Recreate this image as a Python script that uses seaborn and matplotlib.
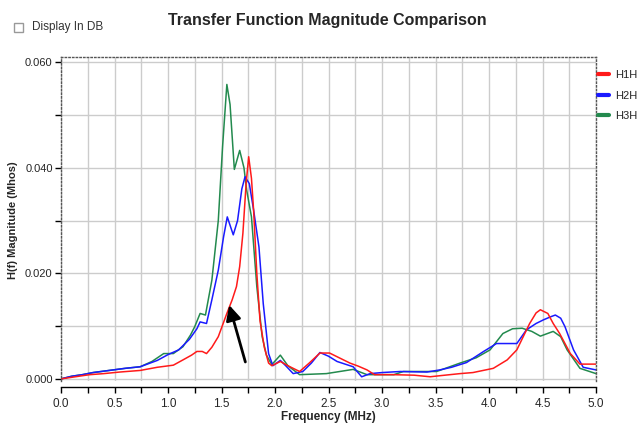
import pandas as pd
import matplotlib
matplotlib.use("Agg")
import matplotlib.pyplot as plt
import seaborn as sns
from matplotlib.ticker import MultipleLocator, FormatStrFormatter
from matplotlib.lines import Line2D
from matplotlib.patches import Rectangle

# H1H (red)
f_h1 = [0.0, 0.1, 0.2, 0.27, 0.4, 0.55, 0.74, 0.9, 1.05, 1.14, 1.22, 1.27, 1.32, 1.36, 1.41,
        1.47, 1.55, 1.60, 1.64, 1.67, 1.70, 1.73, 1.754, 1.78, 1.80, 1.83, 1.86, 1.90, 1.94, 1.97,
        2.05, 2.12, 2.23, 2.32, 2.42, 2.51, 2.60, 2.70, 2.78, 2.86, 2.93, 3.1, 3.3, 3.45, 3.54,
        3.73, 3.85, 4.04, 4.17, 4.26, 4.32, 4.38, 4.44, 4.48, 4.55, 4.60, 4.66, 4.76, 4.85, 5.0]
v_h1 = [0.0, 0.0003, 0.0006, 0.0008, 0.0010, 0.0013, 0.0016, 0.0022, 0.0026, 0.0036, 0.0045,
        0.0052, 0.0052, 0.0048, 0.0060, 0.0080, 0.0124, 0.0150, 0.0175, 0.0213, 0.0276, 0.0370,
        0.0421, 0.0380, 0.0320, 0.0200, 0.0110, 0.0060, 0.0030, 0.0025, 0.0033, 0.0025, 0.0014,
        0.0030, 0.0049, 0.0049, 0.0040, 0.0030, 0.0024, 0.0017, 0.0008, 0.0008, 0.0007, 0.0004,
        0.0006, 0.0010, 0.0012, 0.0020, 0.0036, 0.0055, 0.0080, 0.0105, 0.0125, 0.0131, 0.0124,
        0.0105, 0.0086, 0.0048, 0.0028, 0.0028]

# H2H (blue)
f_h2 = [0.0, 0.1, 0.2, 0.3, 0.45, 0.6, 0.74, 0.9, 1.0, 1.1, 1.2, 1.27, 1.30, 1.36, 1.41, 1.47,
        1.52, 1.554, 1.59, 1.61, 1.65, 1.69, 1.72, 1.76, 1.80, 1.85, 1.89, 1.94, 1.98, 2.05, 2.10,
        2.17, 2.26, 2.34, 2.42, 2.50, 2.58, 2.73, 2.81, 2.89, 3.0, 3.17, 3.42, 3.54, 3.65, 3.79,
        3.95, 4.07, 4.17, 4.26, 4.35, 4.44, 4.51, 4.58, 4.62, 4.67, 4.71, 4.79, 4.88, 5.0]
v_h2 = [0.0, 0.0005, 0.0008, 0.0012, 0.0016, 0.0020, 0.0023, 0.0035, 0.0046, 0.0055, 0.0075,
        0.0095, 0.0108, 0.0105, 0.0150, 0.0206, 0.0270, 0.0307, 0.0285, 0.0273, 0.0300, 0.0360,
        0.0383, 0.0370, 0.0320, 0.0250, 0.0143, 0.0048, 0.0025, 0.0035, 0.0025, 0.0010, 0.0014,
        0.0030, 0.0050, 0.0043, 0.0033, 0.0023, 0.0004, 0.0010, 0.0012, 0.0014, 0.0013, 0.0017,
        0.0022, 0.0031, 0.0052, 0.0067, 0.0067, 0.0067, 0.0093, 0.0105, 0.0112, 0.0118, 0.0121,
        0.0115, 0.0099, 0.0055, 0.0022, 0.0017]

# H3H (green)
f_h3 = [0.0, 0.1, 0.2, 0.3, 0.45, 0.6, 0.74, 0.85, 0.96, 1.05, 1.14, 1.21, 1.25, 1.30, 1.35,
        1.41, 1.47, 1.51, 1.55, 1.58, 1.62, 1.67, 1.71, 1.735, 1.78, 1.83, 1.88, 1.92, 1.97, 2.05,
        2.12, 2.23, 2.48, 2.73, 2.86, 3.11, 3.20, 3.51, 3.73, 3.88, 4.01, 4.13, 4.22, 4.31, 4.40,
        4.48, 4.60, 4.67, 4.73, 4.85, 5.0]
v_h3 = [0.0, 0.0005, 0.0008, 0.0012, 0.0016, 0.0020, 0.0023, 0.0033, 0.0048, 0.0048, 0.0061,
        0.0083, 0.0099, 0.0124, 0.0121, 0.0187, 0.0300, 0.0440, 0.0558, 0.0520, 0.0397, 0.0433,
        0.0400, 0.0358, 0.0307, 0.0175, 0.0080, 0.0045, 0.0027, 0.0045, 0.0025, 0.0008, 0.0010,
        0.0018, 0.0008, 0.0008, 0.0014, 0.0014, 0.0030, 0.0040, 0.0055, 0.0086, 0.0095, 0.0096,
        0.0090, 0.0081, 0.0090, 0.0080, 0.0055, 0.0020, 0.0010]

series_names = ['H1H', 'H2H', 'H3H']
series_colors = ['#ff1a1a', '#1a1aff', '#238a4e']

df = pd.concat([
    pd.DataFrame({'freq': f_h1, 'mag': v_h1, 'curve': 'H1H'}),
    pd.DataFrame({'freq': f_h2, 'mag': v_h2, 'curve': 'H2H'}),
    pd.DataFrame({'freq': f_h3, 'mag': v_h3, 'curve': 'H3H'}),
], ignore_index=True)

sns.set_style("white")
plt.rcParams['font.family'] = ['Liberation Sans', 'DejaVu Sans']

fig = plt.figure(figsize=(6.41, 4.23), dpi=100)
ax = fig.add_axes([61 / 641, (423 - 381) / 423, 535 / 641, (381 - 57) / 423])

# green first so red/blue sit on top like the original
for name in ['H3H', 'H2H', 'H1H']:
    sub = df[df['curve'] == name]
    sns.lineplot(data=sub, x='freq', y='mag', ax=ax, color=series_colors[series_names.index(name)],
                 linewidth=1.1, estimator=None, sort=False, legend=False)

ax.set_xlim(0, 5.0)
ax.set_ylim(-0.0004, 0.061)
ax.xaxis.set_major_locator(MultipleLocator(0.5))
ax.xaxis.set_minor_locator(MultipleLocator(0.25))
ax.yaxis.set_major_locator(MultipleLocator(0.02))
ax.yaxis.set_minor_locator(MultipleLocator(0.01))
ax.xaxis.set_major_formatter(FormatStrFormatter('%.1f'))
ax.yaxis.set_major_formatter(FormatStrFormatter('%.3f'))
ax.grid(True, which='both', color='#cccccc', linewidth=1.0)
ax.set_axisbelow(True)

for side in ['top', 'right', 'left']:
    ax.spines[side].set_linestyle(':')
    ax.spines[side].set_color('#555555')
    ax.spines[side].set_linewidth(1.0)
ax.spines['bottom'].set_position(('outward', 4))
ax.spines['bottom'].set_color('black')
ax.spines['bottom'].set_linewidth(1.0)

ax.tick_params(axis='both', which='both', direction='out', length=4, width=1,
               color='black', labelsize=8.5, bottom=True, left=True)
ax.tick_params(axis='y', labelsize=8, pad=2)
ax.tick_params(axis='x', pad=4)

ax.set_xlabel('Frequency (MHz)', fontsize=8.5, fontweight='bold', labelpad=1)
ax.set_ylabel('')
fig.text(13 / 641, 1 - 220 / 423, 'H(f) Magnitude (Mhos)', rotation=90, ha='center', va='center',
         fontsize=8, fontweight='bold')

# arrow pointing at the red curve
ax.annotate('', xy=(1.565, 0.0145), xytext=(1.73, 0.0027),
            arrowprops=dict(arrowstyle='-|>,head_length=0.9,head_width=0.45',
                            color='black', lw=2))

fig.text(0.510, 1 - 20 / 423, 'Transfer Function Magnitude Comparison', ha='center', va='center',
         fontsize=11.5, fontweight='bold')

# "Display In DB" checkbox
fig.patches.append(Rectangle((14 / 641, 1 - 32 / 423), 9 / 641, 9 / 423, transform=fig.transFigure,
                             facecolor='white', edgecolor='#999999', linewidth=1))
fig.text(32 / 641, 1 - 27 / 423, 'Display In DB', ha='left', va='center', fontsize=8.5,
         color='#333333')

handles = [Line2D([0], [0], color=c, linewidth=3) for c in series_colors]
fig.legend(handles, series_names, loc='upper left', bbox_to_anchor=(598 / 641, 1 - 70 / 423),
           frameon=False, handlelength=1.0, handletextpad=0.5, labelspacing=0.95, fontsize=8,
           borderaxespad=0, borderpad=0)

fig.savefig('out.png', dpi=100)
